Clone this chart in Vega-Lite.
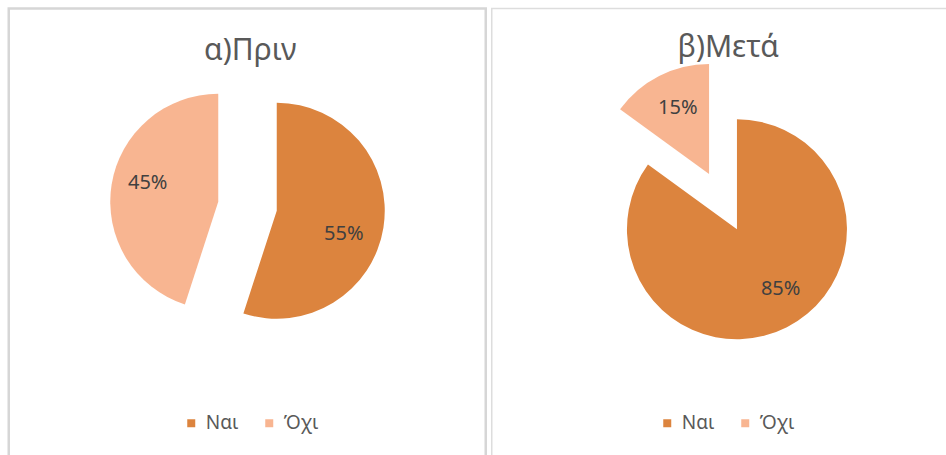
{
  "$schema": "https://vega.github.io/schema/vega-lite/v6.json",
  "padding": {"left": 6.75, "top": 6.5, "right": 0, "bottom": 0},
  "spacing": 6,
  "bounds": "flush",
  "background": "white",
  "config": {
    "view": {"stroke": null},
    "font": "Noto Sans",
    "title": {"fontSize": 30, "fontWeight": "normal", "color": "#595959", "anchor": "middle", "baseline": "alphabetic"},
    "legend": {"labelFontSize": 19, "labelColor": "#595959", "symbolType": "square", "symbolSize": 64, "symbolStrokeWidth": 0, "labelOffset": 5, "columnPadding": 21, "padding": 0}
  },
  "resolve": {"scale": {"color": "independent"}},
  "datasets": {
    "before": [
      {"answer": "Ναι", "share": 0.55, "k": 1},
      {"answer": "Όχι", "share": 0.45, "k": 2}
    ],
    "after": [
      {"answer": "Ναι", "share": 0.85, "k": 1},
      {"answer": "Όχι", "share": 0.15, "k": 2}
    ],
    "frame": [{}]
  },
  "hconcat": [
    {
      "width": 477,
      "height": 448,
      "title": {"text": "α)Πριν", "dx": 3, "offset": -59},
      "layer": [
        {
          "data": {"name": "frame"},
          "mark": {"type": "rect", "fill": null, "stroke": "#D6D6D6", "strokeWidth": 2.5},
          "encoding": {}
        },
        {
          "data": {"name": "before"},
          "encoding": {
            "theta": {"field": "share", "type": "quantitative", "stack": true},
            "order": {"field": "k", "type": "quantitative"},
            "color": {
              "field": "answer",
              "type": "nominal",
              "scale": {"domain": ["Ναι", "Όχι"], "range": ["#DC843E", "#F8B591"]},
              "legend": {"title": null, "orient": "none", "direction": "horizontal", "legendX": 173, "legendY": 405}
            }
          },
          "layer": [
            {
              "mark": {
                "type": "arc",
                "outerRadius": 108,
                "xOffset": {"expr": "datum.k == 1 ? 29.5 : -29"},
                "yOffset": {"expr": "datum.k == 1 ? -21.75 : -30.75"}
              }
            },
            {
              "mark": {
                "type": "text",
                "radius": 72,
                "fontSize": 20,
                "xOffset": {"expr": "datum.k == 1 ? 25.4 : -28.4"},
                "yOffset": {"expr": "datum.k == 1 ? -10 : -38.5"}
              },
              "encoding": {
                "text": {"field": "share", "type": "quantitative", "format": ".0%"},
                "color": {"value": "#404040"}
              }
            }
          ]
        }
      ]
    },
    {
      "width": 455,
      "height": 448,
      "title": {"text": "β)Μετά", "dx": 9, "offset": -55},
      "layer": [
        {
          "data": {"name": "frame"},
          "mark": {"type": "rect", "fill": null, "stroke": "#DDDDDD", "strokeWidth": 1.5},
          "encoding": {}
        },
        {
          "data": {"name": "after"},
          "encoding": {
            "theta": {"field": "share", "type": "quantitative", "stack": true},
            "order": {"field": "k", "type": "quantitative"},
            "color": {
              "field": "answer",
              "type": "nominal",
              "scale": {"domain": ["Ναι", "Όχι"], "range": ["#DC843E", "#F8B591"]},
              "legend": {"title": null, "orient": "none", "direction": "horizontal", "legendX": 166, "legendY": 405}
            }
          },
          "layer": [
            {
              "mark": {
                "type": "arc",
                "outerRadius": 110,
                "xOffset": {"expr": "datum.k == 1 ? 17.7 : -10.2"},
                "yOffset": {"expr": "datum.k == 1 ? -3.25 : -58.5"}
              }
            },
            {
              "mark": {
                "type": "text",
                "radius": 72,
                "fontSize": 20,
                "xOffset": {"expr": "datum.k == 1 ? 28.7 : -8.8"},
                "yOffset": {"expr": "datum.k == 1 ? -8 : -60.5"}
              },
              "encoding": {
                "text": {"field": "share", "type": "quantitative", "format": ".0%"},
                "color": {"value": "#404040"}
              }
            }
          ]
        }
      ]
    }
  ]
}
